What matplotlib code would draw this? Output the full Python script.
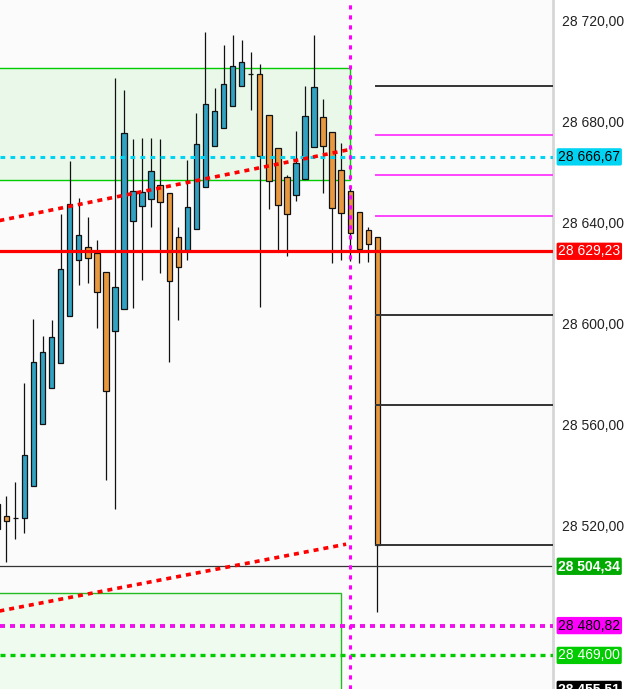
import numpy as np
import matplotlib
matplotlib.use("Agg")
import matplotlib.pyplot as plt
from matplotlib.patches import Rectangle

plt.rcParams['font.family'] = ['Liberation Sans', 'DejaVu Sans']
plt.rcParams['lines.scale_dashes'] = False

# OHLC (first candle is cut by the left edge)
opens  = [28519.1, 28524.3, 28523.6, 28523.5, 28536.2, 28560.8, 28575.0, 28584.9, 28603.6,
          28625.8, 28630.9, 28628.6, 28621.0, 28597.6, 28606.4, 28641.2, 28647.2, 28650.0,
          28655.5, 28652.3, 28634.9, 28629.7, 28638.1, 28654.7, 28671.0, 28678.1, 28686.8,
          28694.8, 28699.5, 28699.5, 28683.3, 28670.2, 28658.7, 28651.6, 28657.9, 28670.6,
          28682.5, 28676.5, 28661.5, 28653.1, 28644.8, 28637.7, 28634.9]
highs  = [28534.0, 28532.2, 28537.8, 28577.1, 28602.4, 28595.6, 28602.0, 28644.0, 28665.0,
          28650.4, 28642.8, 28633.7, 28621.0, 28697.9, 28693.2, 28673.8, 28674.2, 28674.2,
          28673.8, 28652.3, 28638.9, 28665.4, 28684.1, 28716.2, 28694.0, 28711.0, 28715.0,
          28713.0, 28708.3, 28703.5, 28683.3, 28670.2, 28659.5, 28676.9, 28694.8, 28715.0,
          28689.6, 28676.5, 28672.2, 28655.5, 28644.8, 28638.9, 28634.9]
lows   = [28512.0, 28506.2, 28515.3, 28517.5, 28536.2, 28560.8, 28575.0, 28584.9, 28603.6,
          28615.9, 28616.7, 28598.8, 28538.5, 28527.1, 28606.4, 28606.7, 28617.9, 28638.9,
          28620.6, 28585.3, 28602.0, 28625.8, 28638.1, 28654.7, 28671.0, 28678.1, 28686.8,
          28694.8, 28685.3, 28607.1, 28646.0, 28629.7, 28627.4, 28649.2, 28657.9, 28670.6,
          28652.3, 28624.6, 28625.8, 28625.4, 28624.6, 28625.0, 28486.2]
closes = [28529.0, 28522.3, 28523.6, 28548.5, 28585.3, 28589.3, 28595.3, 28622.2, 28648.0,
          28635.7, 28626.6, 28613.1, 28573.8, 28615.1, 28676.1, 28653.1, 28652.7, 28661.1,
          28648.8, 28617.5, 28623.0, 28646.8, 28671.8, 28687.6, 28684.9, 28695.6, 28702.7,
          28704.3, 28699.5, 28667.0, 28657.1, 28647.6, 28644.0, 28664.2, 28682.9, 28694.4,
          28671.0, 28646.4, 28644.4, 28636.5, 28630.1, 28632.1, 28512.8]

yticks = [28720, 28680, 28640, 28600, 28560, 28520]

# levels on the right side
dark_levels = [28694.9, 28604.1, 28568.4, 28512.9]
pink_levels = [28675.5, 28659.6, 28643.3]

# price labels: value, background, text colour, bold
price_tags = [
    (28666.67, '#00d4f2', 'black', False),
    (28629.23, '#ff0000', 'white', False),
    (28504.34, '#00aa00', 'white', True),
    (28480.82, '#ff00ff', 'black', False),
    (28469.00, '#00cc00', 'white', False),
    (28455.51, '#000000', 'white', True),
]

cyan_level = 28666.67
red_level = 28629.23
last_level = 28504.34
magenta_level = 28480.82
green_level = 28469.00

upper_zone = (28657.4, 28701.8)
lower_zone_top = 28493.6
trend_up = [(0.23, 28641.4), (39.23, 28669.8)]
trend_low = [(0.23, 28486.6), (38.54, 28513.1)]
vline_x = 38.93

ymin, ymax = 28455.68, 28728.87
xmin, xmax = 0.3, 61.4

fig = plt.figure(figsize=(6.28, 6.89), dpi=100)
fig.patch.set_facecolor('white')
ax = fig.add_axes([0, 0, 553 / 628, 1])
ax.set_facecolor('#fbfbfb')
ax.set_xlim(xmin, xmax)
ax.set_ylim(ymin, ymax)
ax.set_xticks([])
ax.set_yticks([])
for s in ['top', 'bottom', 'left']:
    ax.spines[s].set_visible(False)
ax.spines['right'].set_color('#d6d6d6')
ax.spines['right'].set_linewidth(2)

# zones
ax.add_patch(Rectangle((-5, upper_zone[0]), vline_x + 5, upper_zone[1] - upper_zone[0],
                       facecolor='#eaf8ea', edgecolor='#00cc00', lw=1, zorder=0.5))
ax.add_patch(Rectangle((-5, ymin - 20), 37.94 + 5, lower_zone_top - ymin + 20,
                       facecolor='#eefbee', edgecolor='#22bb22', lw=1, zorder=0.5))

# candles
x = np.arange(len(opens))
o = np.array(opens)
c = np.array(closes)
col = np.where(c >= o, '#31a2c2', '#e8993f')
ax.vlines(x, lows, highs, color='#111111', lw=0.9, zorder=2)
ax.bar(x, np.abs(c - o), bottom=np.minimum(o, c), width=0.6, color=col,
       edgecolor='#111111', linewidth=0.9, zorder=3)

# right side levels
for lv in dark_levels:
    ax.plot([41.88, xmax], [lv, lv], color='#333333', lw=1.4, zorder=4)
for lv in pink_levels:
    ax.plot([41.88, xmax], [lv, lv], color='#ff44ff', lw=1.4, zorder=4)

# horizontal lines
ax.axhline(last_level, color='#333333', lw=0.9, zorder=2)
ax.axhline(red_level, color='#ff0000', lw=2.3, zorder=4)
ax.axhline(cyan_level, color='#00d4f2', lw=2.2, linestyle=(0, (3.4, 3.8)), zorder=4)
ax.axhline(magenta_level, color='#ee11ee', lw=2.8, linestyle=(0, (3.6, 3.6)), zorder=4)
ax.axhline(green_level, color='#00cc00', lw=2.4, linestyle=(0, (3.6, 3.6)), zorder=4)

# trend lines
for tl in (trend_up, trend_low):
    ax.plot([p[0] for p in tl], [p[1] for p in tl], color='#ff0000', lw=2.6,
            linestyle=(0, (3.6, 3.6)), zorder=4)

ax.axvline(vline_x, color='#ff00ff', lw=2.2, linestyle=(0, (3.0, 4.2)), zorder=5)

# price scale
lab = fig.add_axes([553 / 628, 0, 75 / 628, 1])
lab.set_xlim(0, 1)
lab.set_ylim(ymin, ymax)
lab.axis('off')
for t in yticks:
    lab.text(0.12, t, f"{t:,.2f}".replace(',', ' ').replace('.', ','), fontsize=10,
             color='#222222', va='center', ha='left')
for val, bg, fg, bold in price_tags:
    lab.text(0.07, val, f"{val:,.2f}".replace(',', ' ').replace('.', ','), fontsize=10,
             color=fg, va='center', ha='left', fontweight='bold' if bold else 'normal',
             bbox=dict(boxstyle='round,pad=0.12', fc=bg, ec='none'), clip_on=False)

fig.savefig('out.png', dpi=100)
